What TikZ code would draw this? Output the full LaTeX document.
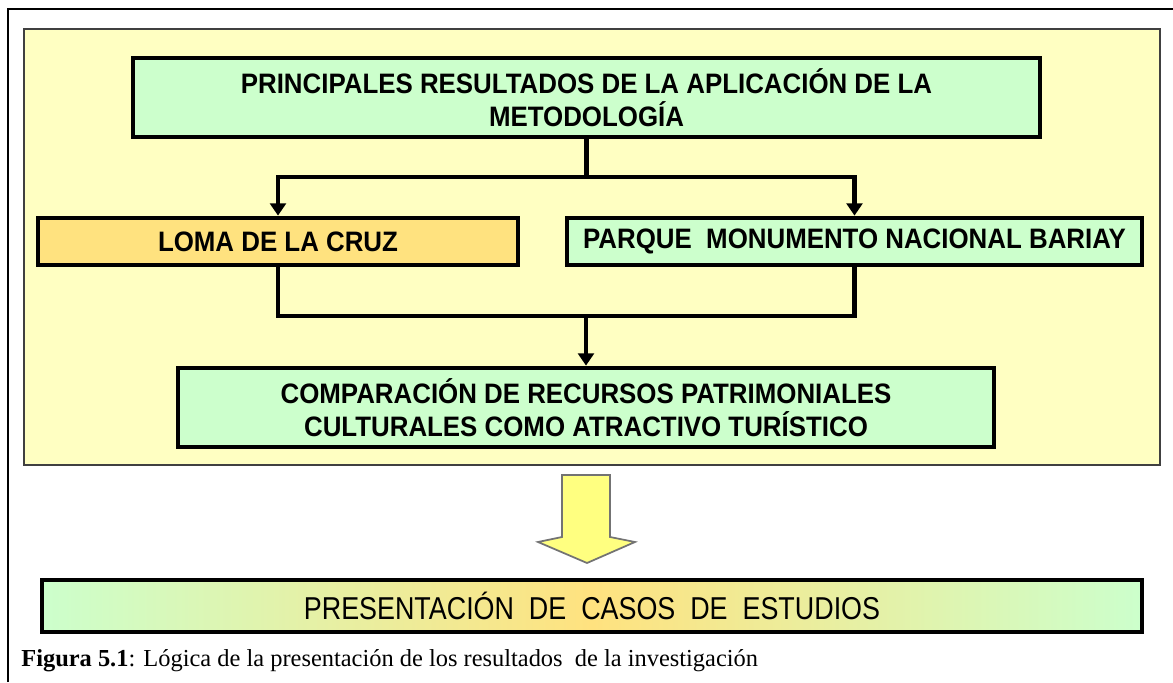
\documentclass[tikz,border=0pt]{standalone}
\usepackage{fontspec}
\setmainfont{Liberation Serif}
\newfontfamily\boxfont{Liberation Sans}[FakeStretch=0.92]
\newfontfamily\casefont{Liberation Sans}[FakeStretch=0.85]
\usetikzlibrary{arrows.meta}
\definecolor{bgyellow}{HTML}{FFFFC2}
\definecolor{mint}{HTML}{CCFFCC}
\definecolor{gold}{HTML}{FFE27F}
\definecolor{arrowyellow}{HTML}{FFFF80}

\begin{document}
\begin{tikzpicture}[font=\boxfont\bfseries\fontsize{16}{19}\selectfont,>={Triangle[length=7pt,width=9pt]}]
    \tikzset{
      box/.style={draw, line width=2.7pt, fill=mint, align=center, inner sep=0pt},
      conn/.style={line width=2.7pt},
      panel/.style={draw=black!75, line width=1pt, fill=bgyellow},
      bigarrow/.style={draw=black!55, line width=1pt, fill=arrowyellow, line join=miter}
    }
    \useasboundingbox (0,0) rectangle (23.46,13.64);
    \draw[line width=1pt] (0.16,0) -- (0.16,13.46) -- (23.46,13.46);
    \draw[panel] (0.48,4.34) rectangle (23.20,13.06);

    \node[box, minimum width=18.14cm, minimum height=1.58cm] (res) at (11.73,11.69)
      {PRINCIPALES RESULTADOS DE LA APLICACIÓN DE LA\\METODOLOGÍA};
    \node[box, fill=gold, minimum width=9.6cm, minimum height=0.94cm] (loma) at (5.56,8.81)
      {LOMA DE LA CRUZ};
    \node[box, minimum width=11.5cm, minimum height=0.94cm] (parque) at (17.09,8.81)
      {PARQUE\ \ MONUMENTO NACIONAL BARIAY};
    \node[box, minimum width=16.32cm, minimum height=1.58cm] (comp) at (11.72,5.49)
      {COMPARACIÓN DE RECURSOS PATRIMONIALES\\CULTURALES COMO ATRACTIVO TURÍSTICO};

    \coordinate (forkA) at (11.73,10.10);
    \coordinate (forkB) at (11.72,7.32);
    \draw[conn,->] (res.south) -- (forkA) -| (loma.north);
    \draw[conn,->] (forkA) -| (parque.north);
    \draw[conn] (loma.south) |- (forkB) -| (parque.south);
    \draw[conn,->] (forkB) -- (comp.north);

    % flecha grande hacia los casos
    \draw[bigarrow] (11.24,4.14) -- (12.20,4.14) -- (12.20,2.90) -- (12.70,2.80)
      -- (11.74,2.38) -- (10.76,2.80) -- (11.24,2.90) -- cycle;

    \node[box, left color=mint, right color=mint, middle color=gold,
      minimum width=22.0cm, minimum height=1.04cm,
      font=\casefont\mdseries\fontsize{18}{20}\selectfont] (casos) at (11.84,1.52)
      {PRESENTACIÓN\ \ DE\ \ CASOS\ \ DE\ \ ESTUDIOS};

    \node[anchor=west, inner sep=0pt, font=\rmfamily\mdseries\fontsize{13.9}{16}\selectfont] (cap) at (0.42,0.42)
      {\textbf{Figura 5.1}: Lógica de la presentación de los resultados\ \ de la investigación};
\end{tikzpicture}
\end{document}
